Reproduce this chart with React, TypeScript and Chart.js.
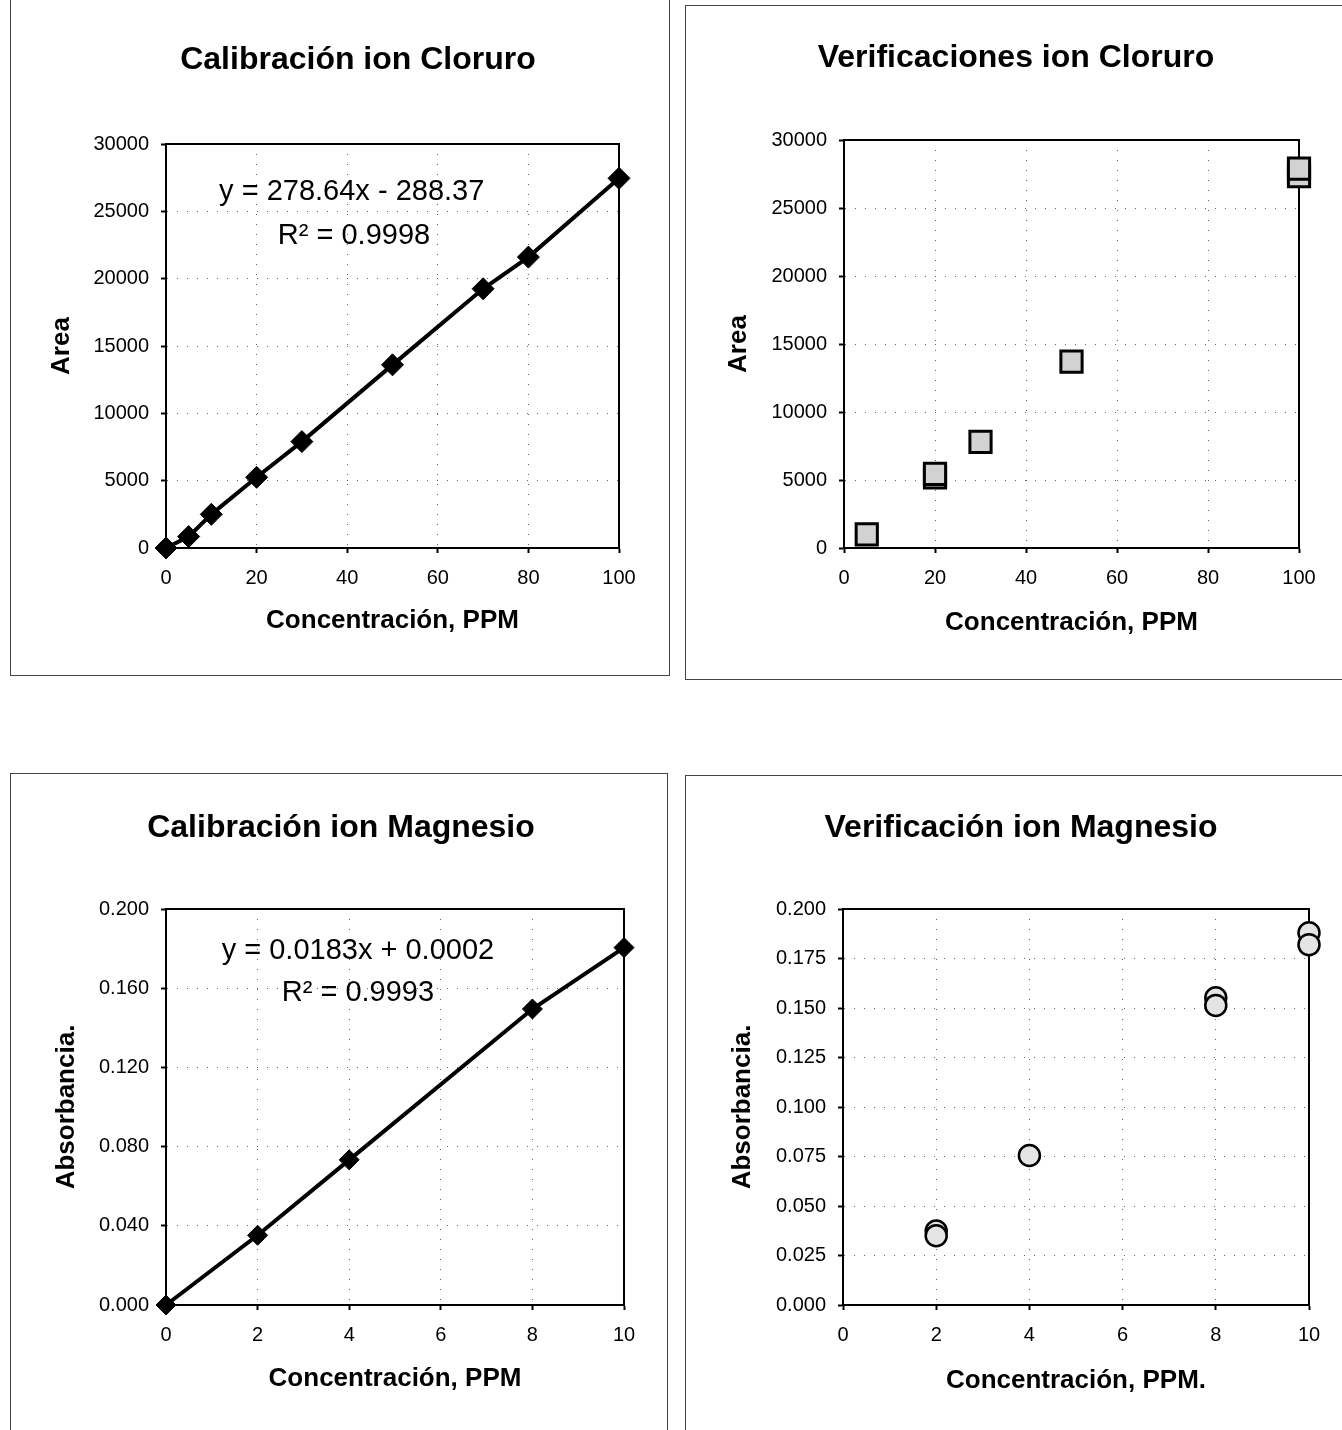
import React, { useEffect, useRef } from "react";
import { Chart, registerables } from "chart.js";

Chart.register(...registerables);

const FONT = "'Liberation Sans', Arial, Helvetica, sans-serif";

// ---- Data ----
const cloruroCalX = [0, 5, 10, 20, 30, 50, 70, 80, 100];
const cloruroCalY = [0, 850, 2500, 5250, 7900, 13600, 19250, 21600, 27450];

const cloruroVerX = [5, 20, 20, 30, 50, 100, 100];
const cloruroVerY = [1000, 5200, 5450, 7800, 13700, 27350, 27900];

const magnesioCalX = [0, 2, 4, 8, 10];
const magnesioCalY = [0, 0.0352, 0.0733, 0.1495, 0.1805];

const magnesioVerX = [2, 2, 4, 8, 8, 10, 10];
const magnesioVerY = [0.0374, 0.035, 0.0755, 0.1552, 0.1513, 0.188, 0.182];

const xTicksCloruro = [0, 20, 40, 60, 80, 100];
const yTicksCloruro = [0, 5000, 10000, 15000, 20000, 25000, 30000];
const xTicksMagnesio = [0, 2, 4, 6, 8, 10];
const yTicksMagCal = [0, 0.04, 0.08, 0.12, 0.16, 0.2];
const yTicksMagVer = [0, 0.025, 0.05, 0.075, 0.1, 0.125, 0.15, 0.175, 0.2];

const titles = [
  "Calibración ion Cloruro",
  "Verificaciones ion Cloruro",
  "Calibración ion Magnesio",
  "Verificación ion Magnesio",
];
const eqCloruro = ["y = 278.64x - 288.37", "R² = 0.9998"];
const eqMagnesio = ["y = 0.0183x + 0.0002", "R² = 0.9993"];

type Box = { left: number; top: number; width: number; height: number };
type Spec = {
  canvas: Box;
  plot: { left: number; top: number; right: number; bottom: number };
  title: string;
  titlePos: [number, number];
  yTitle: string;
  yTitlePad: number;
  xTitle: string;
  xTitlePad: number;
  xMax: number;
  yMax: number;
  xTicks: number[];
  yTicks: number[];
  yFmt: (v: number) => string;
  datasets: any[];
  eq?: { lines: string[]; anchors: [number, number][] };
};

const toPts = (xs: number[], ys: number[]) => xs.map((x, i) => ({ x, y: ys[i] }));

const specs: Spec[] = [
  {
    canvas: { left: 11, top: 0, width: 658, height: 676 },
    plot: { left: 155, top: 144, right: 608, bottom: 548 },
    title: titles[0],
    titlePos: [347, 60],
    yTitle: "Area",
    yTitlePad: 35,
    xTitle: "Concentración, PPM",
    xTitlePad: 40,
    xMax: 100,
    yMax: 30000,
    xTicks: xTicksCloruro,
    yTicks: yTicksCloruro,
    yFmt: (v) => String(v),
    datasets: [
      {
        data: toPts(cloruroCalX, cloruroCalY),
        showLine: true,
        borderColor: "#000",
        borderWidth: 4,
        pointStyle: "rectRot",
        pointRadius: 11,
        pointBackgroundColor: "#000",
        pointBorderColor: "#000",
        pointBorderWidth: 1,
        clip: false,
      },
    ],
    eq: { lines: eqCloruro, anchors: [[41, 26435], [41.5, 23168]] },
  },
  {
    canvas: { left: 686, top: 6, width: 656, height: 673 },
    plot: { left: 158, top: 134, right: 613, bottom: 542 },
    title: titles[1],
    titlePos: [330, 52],
    yTitle: "Area",
    yTitlePad: 37,
    xTitle: "Concentración, PPM",
    xTitlePad: 41,
    xMax: 100,
    yMax: 30000,
    xTicks: xTicksCloruro,
    yTicks: yTicksCloruro,
    yFmt: (v) => String(v),
    datasets: [
      {
        data: toPts(cloruroVerX, cloruroVerY),
        showLine: false,
        pointStyle: "rect",
        pointRadius: 15,
        pointBackgroundColor: "#d2d2d2",
        pointBorderColor: "#000",
        pointBorderWidth: 3,
        clip: false,
      },
    ],
  },
  {
    canvas: { left: 11, top: 774, width: 656, height: 656 },
    plot: { left: 155, top: 135, right: 613, bottom: 531 },
    title: titles[2],
    titlePos: [330, 54],
    yTitle: "Absorbancia.",
    yTitlePad: 40,
    xTitle: "Concentración, PPM",
    xTitlePad: 36,
    xMax: 10,
    yMax: 0.2,
    xTicks: xTicksMagnesio,
    yTicks: yTicksMagCal,
    yFmt: (v) => v.toFixed(3),
    datasets: [
      {
        data: toPts(magnesioCalX, magnesioCalY),
        showLine: true,
        borderColor: "#000",
        borderWidth: 4,
        pointStyle: "rectRot",
        pointRadius: 10,
        pointBackgroundColor: "#000",
        pointBorderColor: "#000",
        pointBorderWidth: 1,
        clip: false,
      },
    ],
    eq: { lines: eqMagnesio, anchors: [[4.19, 0.1788], [4.19, 0.1576]] },
  },
  {
    canvas: { left: 686, top: 776, width: 656, height: 654 },
    plot: { left: 157, top: 133, right: 623, bottom: 529 },
    title: titles[3],
    titlePos: [335, 52],
    yTitle: "Absorbancia.",
    yTitlePad: 41,
    xTitle: "Concentración, PPM.",
    xTitlePad: 34,
    xMax: 10,
    yMax: 0.2,
    xTicks: xTicksMagnesio,
    yTicks: yTicksMagVer,
    yFmt: (v) => v.toFixed(3),
    datasets: [
      {
        data: toPts(magnesioVerX, magnesioVerY),
        showLine: false,
        pointStyle: "circle",
        pointRadius: 10.5,
        pointBackgroundColor: "#e4e4e4",
        pointBorderColor: "#000",
        pointBorderWidth: 2.5,
        clip: false,
      },
    ],
  },
];

function makePlugin(spec: Spec) {
  return {
    id: "panelText",
    beforeDatasetsDraw(chart: any) {
      const { ctx, chartArea: a } = chart;
      ctx.save();
      ctx.strokeStyle = "#000";
      ctx.lineWidth = 2;
      ctx.strokeRect(a.left, a.top, a.right - a.left, a.bottom - a.top);
      ctx.restore();
    },
    afterDraw(chart: any) {
      const { ctx } = chart;
      ctx.save();
      ctx.fillStyle = "#000";
      ctx.textAlign = "center";
      ctx.textBaseline = "middle";
      ctx.font = `bold 32px ${FONT}`;
      ctx.fillText(spec.title, spec.titlePos[0], spec.titlePos[1]);
      if (spec.eq) {
        ctx.font = `29px ${FONT}`;
        const xs = chart.scales.x;
        const ys = chart.scales.y;
        spec.eq.lines.forEach((line, i) => {
          const [ax, ay] = spec.eq!.anchors[i];
          ctx.fillText(line, xs.getPixelForValue(ax), ys.getPixelForValue(ay));
        });
      }
      ctx.restore();
    },
  };
}

function buildConfig(spec: Spec): any {
  const xHeight = spec.canvas.height - spec.plot.bottom;
  const rightPad = spec.canvas.width - spec.plot.right;
  const grid = {
    display: true,
    color: "rgba(0,0,0,0.6)",
    lineWidth: 1,
    drawTicks: true,
    tickLength: 5,
    tickColor: "#000",
    tickWidth: 2,
    tickBorderDash: [],
  };
  const border = { display: true, color: "#000", width: 2, dash: [1, 9] };
  return {
    type: "scatter",
    data: { datasets: spec.datasets },
    options: {
      animation: false,
      responsive: false,
      events: [],
      layout: { padding: { left: 0, top: spec.plot.top, right: rightPad, bottom: 0 } },
      plugins: { legend: { display: false }, tooltip: { enabled: false }, title: { display: false } },
      scales: {
        x: {
          type: "linear",
          min: 0,
          max: spec.xMax,
          grid,
          border,
          ticks: {
            color: "#000",
            font: { family: FONT, size: 20 },
            padding: 13,
            maxRotation: 0,
            callback: (v: number) => String(v),
          },
          afterBuildTicks: (scale: any) => {
            scale.ticks = spec.xTicks.map((value) => ({ value }));
          },
          afterFit: (scale: any) => {
            scale.height = xHeight;
          },
          title: {
            display: true,
            text: spec.xTitle,
            color: "#000",
            font: { family: FONT, size: 26, weight: "bold" },
            padding: { top: 0, bottom: spec.xTitlePad },
          },
        },
        y: {
          type: "linear",
          min: 0,
          max: spec.yMax,
          grid,
          border,
          ticks: {
            color: "#000",
            font: { family: FONT, size: 20 },
            padding: 12,
            callback: (v: number) => spec.yFmt(v),
          },
          afterBuildTicks: (scale: any) => {
            scale.ticks = spec.yTicks.map((value) => ({ value }));
          },
          afterFit: (scale: any) => {
            scale.width = spec.plot.left;
          },
          title: {
            display: true,
            text: spec.yTitle,
            color: "#000",
            font: { family: FONT, size: 26, weight: "bold" },
            padding: { top: spec.yTitlePad, bottom: 0 },
          },
        },
      },
    },
    plugins: [makePlugin(spec)],
  };
}

function ChartPanel({ spec }: { spec: Spec }) {
  const ref = useRef<HTMLCanvasElement | null>(null);
  useEffect(() => {
    if (!ref.current) return;
    const chart = new Chart(ref.current, buildConfig(spec));
    return () => chart.destroy();
  }, [spec]);
  const c = spec.canvas;
  return (
    <canvas
      ref={ref}
      width={c.width}
      height={c.height}
      style={{ position: "absolute", left: c.left, top: c.top, width: c.width, height: c.height }}
    />
  );
}

const frames = [
  { left: 10, top: -2, width: 660, height: 678 },
  { left: 685, top: 5, width: 680, height: 675 },
  { left: 10, top: 773, width: 658, height: 700 },
  { left: 685, top: 775, width: 680, height: 700 },
];

export default function App() {
  return (
    <div
      style={{
        position: "absolute",
        left: 0,
        top: 0,
        width: 1342,
        height: 1430,
        overflow: "hidden",
        background: "#fff",
      }}
    >
      {frames.map((f, i) => (
        <div
          key={"f" + i}
          style={{
            position: "absolute",
            left: f.left,
            top: f.top,
            width: f.width,
            height: f.height,
            border: "1px solid #444",
            boxSizing: "border-box",
          }}
        />
      ))}
      {specs.map((s, i) => (
        <ChartPanel key={i} spec={s} />
      ))}
    </div>
  );
}
